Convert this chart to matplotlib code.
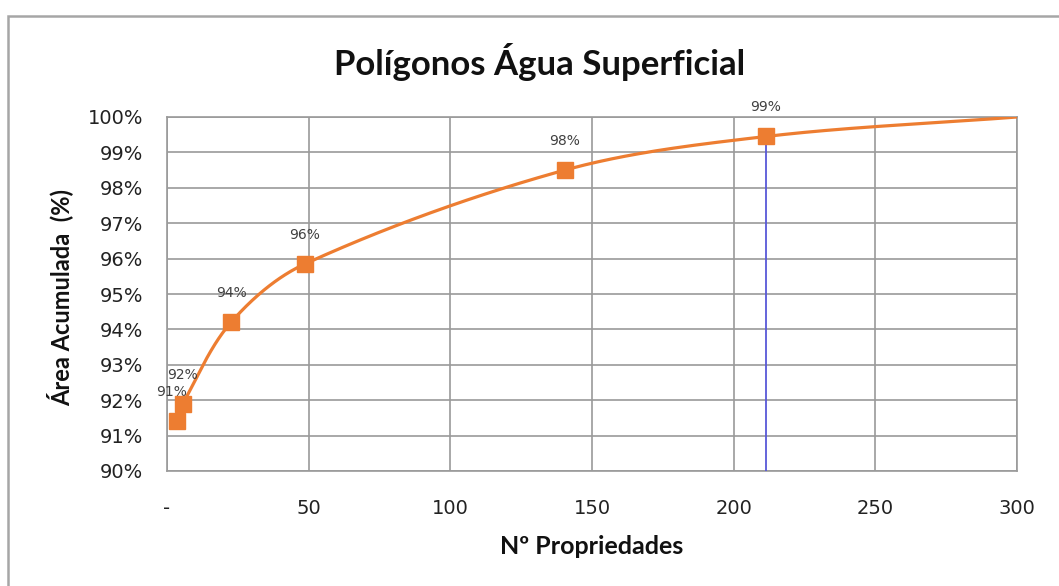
import numpy as np
import matplotlib
matplotlib.use("Agg")
import matplotlib.pyplot as plt
from matplotlib.ticker import FixedLocator, FixedFormatter
from matplotlib.patches import Rectangle

plt.rcParams["font.family"] = ["DejaVu Sans"]

# ---- data ----
n_props = [3.5, 5.6, 22.6, 48.7, 140.4, 211.4]
area_pct = [91.4, 91.9, 94.2, 95.85, 98.5, 99.45]
point_labels = ["91%", "92%", "94%", "96%", "98%", "99%"]
end_x = 300
end_y = 100.0
marker_line_x = 211.4
x_ticks = [0, 50, 100, 150, 200, 250, 300]
x_tick_labels = ["-", "50", "100", "150", "200", "250", "300"]
y_ticks = [90, 91, 92, 93, 94, 95, 96, 97, 98, 99, 100]
y_tick_labels = [f"{v}%" for v in y_ticks]

ORANGE = "#ED7D31"
GRID = "#9a9a9a"

def smooth_curve(xs, ys, sx=2.83, sy=35.4, n=60):
    # chord-length Catmull-Rom style Bezier, computed in scaled (display-like) space
    P = np.column_stack([np.asarray(xs, float) * sx, np.asarray(ys, float) * sy])
    d = np.linalg.norm(np.diff(P, axis=0), axis=1)
    m = np.zeros_like(P)
    for i in range(len(P)):
        if i == 0:
            m[i] = (P[1] - P[0]) / d[0]
        elif i == len(P) - 1:
            m[i] = (P[-1] - P[-2]) / d[-1]
        else:
            m[i] = (P[i + 1] - P[i - 1]) / (d[i - 1] + d[i])
    out = []
    t = np.linspace(0, 1, n)[:, None]
    for i in range(len(P) - 1):
        p1, p2 = P[i], P[i + 1]
        c1 = p1 + m[i] * d[i] / 3.0
        c2 = p2 - m[i + 1] * d[i] / 3.0
        seg = ((1 - t) ** 3) * p1 + 3 * ((1 - t) ** 2) * t * c1 + 3 * (1 - t) * t ** 2 * c2 + t ** 3 * p2
        out.append(seg)
    S = np.vstack(out)
    return S[:, 0] / sx, S[:, 1] / sy

fig = plt.figure(figsize=(10.59, 5.86), dpi=100)
ax = fig.add_axes([167 / 1059, 1 - 471 / 586, (1017 - 167) / 1059, (471 - 117) / 586])

# chart-area border
fig.patches.append(Rectangle((8 / 1059, -0.1), 1.2, 1 - 16 / 586 + 0.1, transform=fig.transFigure,
                             fill=False, edgecolor="#a6a6a6", linewidth=1.8))

all_x = n_props + [end_x]
all_y = area_pct + [end_y]
cx, cy = smooth_curve(all_x, all_y)
ax.plot(cx, cy, color=ORANGE, linewidth=2.3, zorder=3, solid_capstyle="round")
ax.plot(n_props, area_pct, linestyle="none", marker="s", markersize=11,
        color=ORANGE, zorder=4)

# vertical reference line
ax.plot([marker_line_x, marker_line_x], [90, area_pct[-1]], color="#5858d8", linewidth=1.3, zorder=3.5)

for i, (x, y, lab) in enumerate(zip(n_props, area_pct, point_labels)):
    dx = -4 if i == 0 else 0
    ax.annotate(lab, (x, y), xytext=(dx, 21), textcoords="offset points",
                ha="center", va="center", fontsize=10, color="#404040")

ax.set_xlim(0, 300)
ax.set_ylim(90, 100)
ax.xaxis.set_major_locator(FixedLocator(x_ticks))
ax.xaxis.set_major_formatter(FixedFormatter(x_tick_labels))
ax.yaxis.set_major_locator(FixedLocator(y_ticks))
ax.yaxis.set_major_formatter(FixedFormatter(y_tick_labels))
ax.grid(True, color=GRID, linewidth=1.2)
ax.set_axisbelow(True)
for s in ax.spines.values():
    s.set_color(GRID)
    s.set_linewidth(1.2)
ax.tick_params(length=0, labelsize=14, colors="#222222")
ax.tick_params(axis="y", pad=17)
ax.tick_params(axis="x", pad=20)

fig.text(540 / 1059, 1 - 62 / 586, "Polígonos Água Superficial", ha="center", va="center",
         fontsize=25, fontweight="bold", family="Lato", color="#111111")
fig.text(60 / 1059, 1 - 298 / 586, "Área Acumulada  (%)", rotation=90, ha="center", va="center",
         fontsize=17, fontweight="bold", family="Lato", color="#111111")
fig.text(592 / 1059, 1 - 547 / 586, "Nº Propriedades", ha="center", va="center",
         fontsize=18, fontweight="bold", family="Lato", color="#111111")

fig.savefig("out.png", dpi=100, facecolor="white")
